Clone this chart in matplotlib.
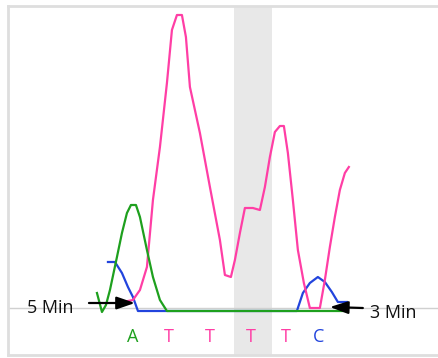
import matplotlib
matplotlib.use("Agg")
import matplotlib.pyplot as plt

# --- data (scan position, signal intensity above baseline) ---
pink_x = [118, 133, 140, 147, 153, 160, 167, 172, 177, 182, 186, 190, 200, 210, 220, 225, 231,
          235, 240, 245, 253, 260, 265, 270, 275, 280, 284, 288, 293, 298, 304, 310, 320, 325,
          330, 335, 340, 345, 349]
pink_y = [5, 8, 18, 41, 108, 161, 225, 278, 293, 293, 271, 221, 175, 121, 68, 33, 31,
          48, 75, 100, 100, 98, 121, 151, 176, 182, 182, 155, 108, 58, 25, 0, 0, 28,
          61, 91, 118, 135, 141]

green_x = [97, 102, 106, 110, 117, 122, 127, 131, 136, 140, 147, 153, 160, 167, 345]
green_y = [15, -4, 3, 18, 51, 75, 95, 103, 103, 91, 58, 31, 8, -3, -3]

blue_x = [108, 115, 122, 128, 133, 138, 297, 303, 310, 318, 325, 332, 338, 347]
blue_y = [46, 46, 35, 21, 11, -3, -3, 15, 25, 31, 26, 16, 6, 6]

bases = ["A", "T", "T", "T", "T", "C"]
base_x = [133, 169, 210, 251, 286, 319]
base_colors = ["#1ea01e", "#ff3ea5", "#ff3ea5", "#ff3ea5", "#ff3ea5", "#2244dd"]

highlight = (234, 272)

PINK = "#ff3ea5"
GREEN = "#1ea01e"
BLUE = "#2244dd"

W, H = 438, 358
fig = plt.figure(figsize=(W / 100, H / 100), dpi=100)
left_px, top_px, bot_px = 8, 6, 355
ax = fig.add_axes([left_px / W, (H - bot_px) / H, (W - left_px) / W + 0.1, (bot_px - top_px) / H])
ax.set_xlim(left_px, W + 44)
ax.set_ylim(308 - bot_px, 308 - top_px)

for s in ["left", "top", "bottom"]:
    ax.spines[s].set_color("#dedede")
    ax.spines[s].set_linewidth(2)
ax.spines["right"].set_visible(False)
ax.set_xticks([])
ax.set_yticks([])

ax.axvspan(*highlight, color="#e8e8e8", lw=0, zorder=0)
ax.axhline(0, color="#d0d0d0", lw=1, zorder=1)

ax.plot(blue_x, blue_y, color=BLUE, lw=1.6, zorder=3)
ax.plot(pink_x, pink_y, color=PINK, lw=1.6, zorder=3)
ax.plot(green_x, green_y, color=GREEN, lw=1.6, zorder=4)

font = ["Open Sans", "DejaVu Sans"]
for b, x, c in zip(bases, base_x, base_colors):
    ax.text(x, -29, b, color=c, fontsize=13, ha="center", va="center", family=font)

arrow = dict(arrowstyle="-|>,head_length=1.1,head_width=0.38", color="black", lw=1.6,
             shrinkA=0, shrinkB=0)
ax.annotate("", xy=(135, 5), xytext=(89, 5), arrowprops=arrow, zorder=5)
ax.text(74, 0, "5 Min", fontsize=13, ha="right", va="center", family=font, color="#111111")

ax.annotate("", xy=(330, 1), xytext=(363, 0), arrowprops=arrow, zorder=5)
ax.text(370, -5, "3 Min", fontsize=13, ha="left", va="center", family=font, color="#111111")

fig.savefig("out.png", dpi=100)
